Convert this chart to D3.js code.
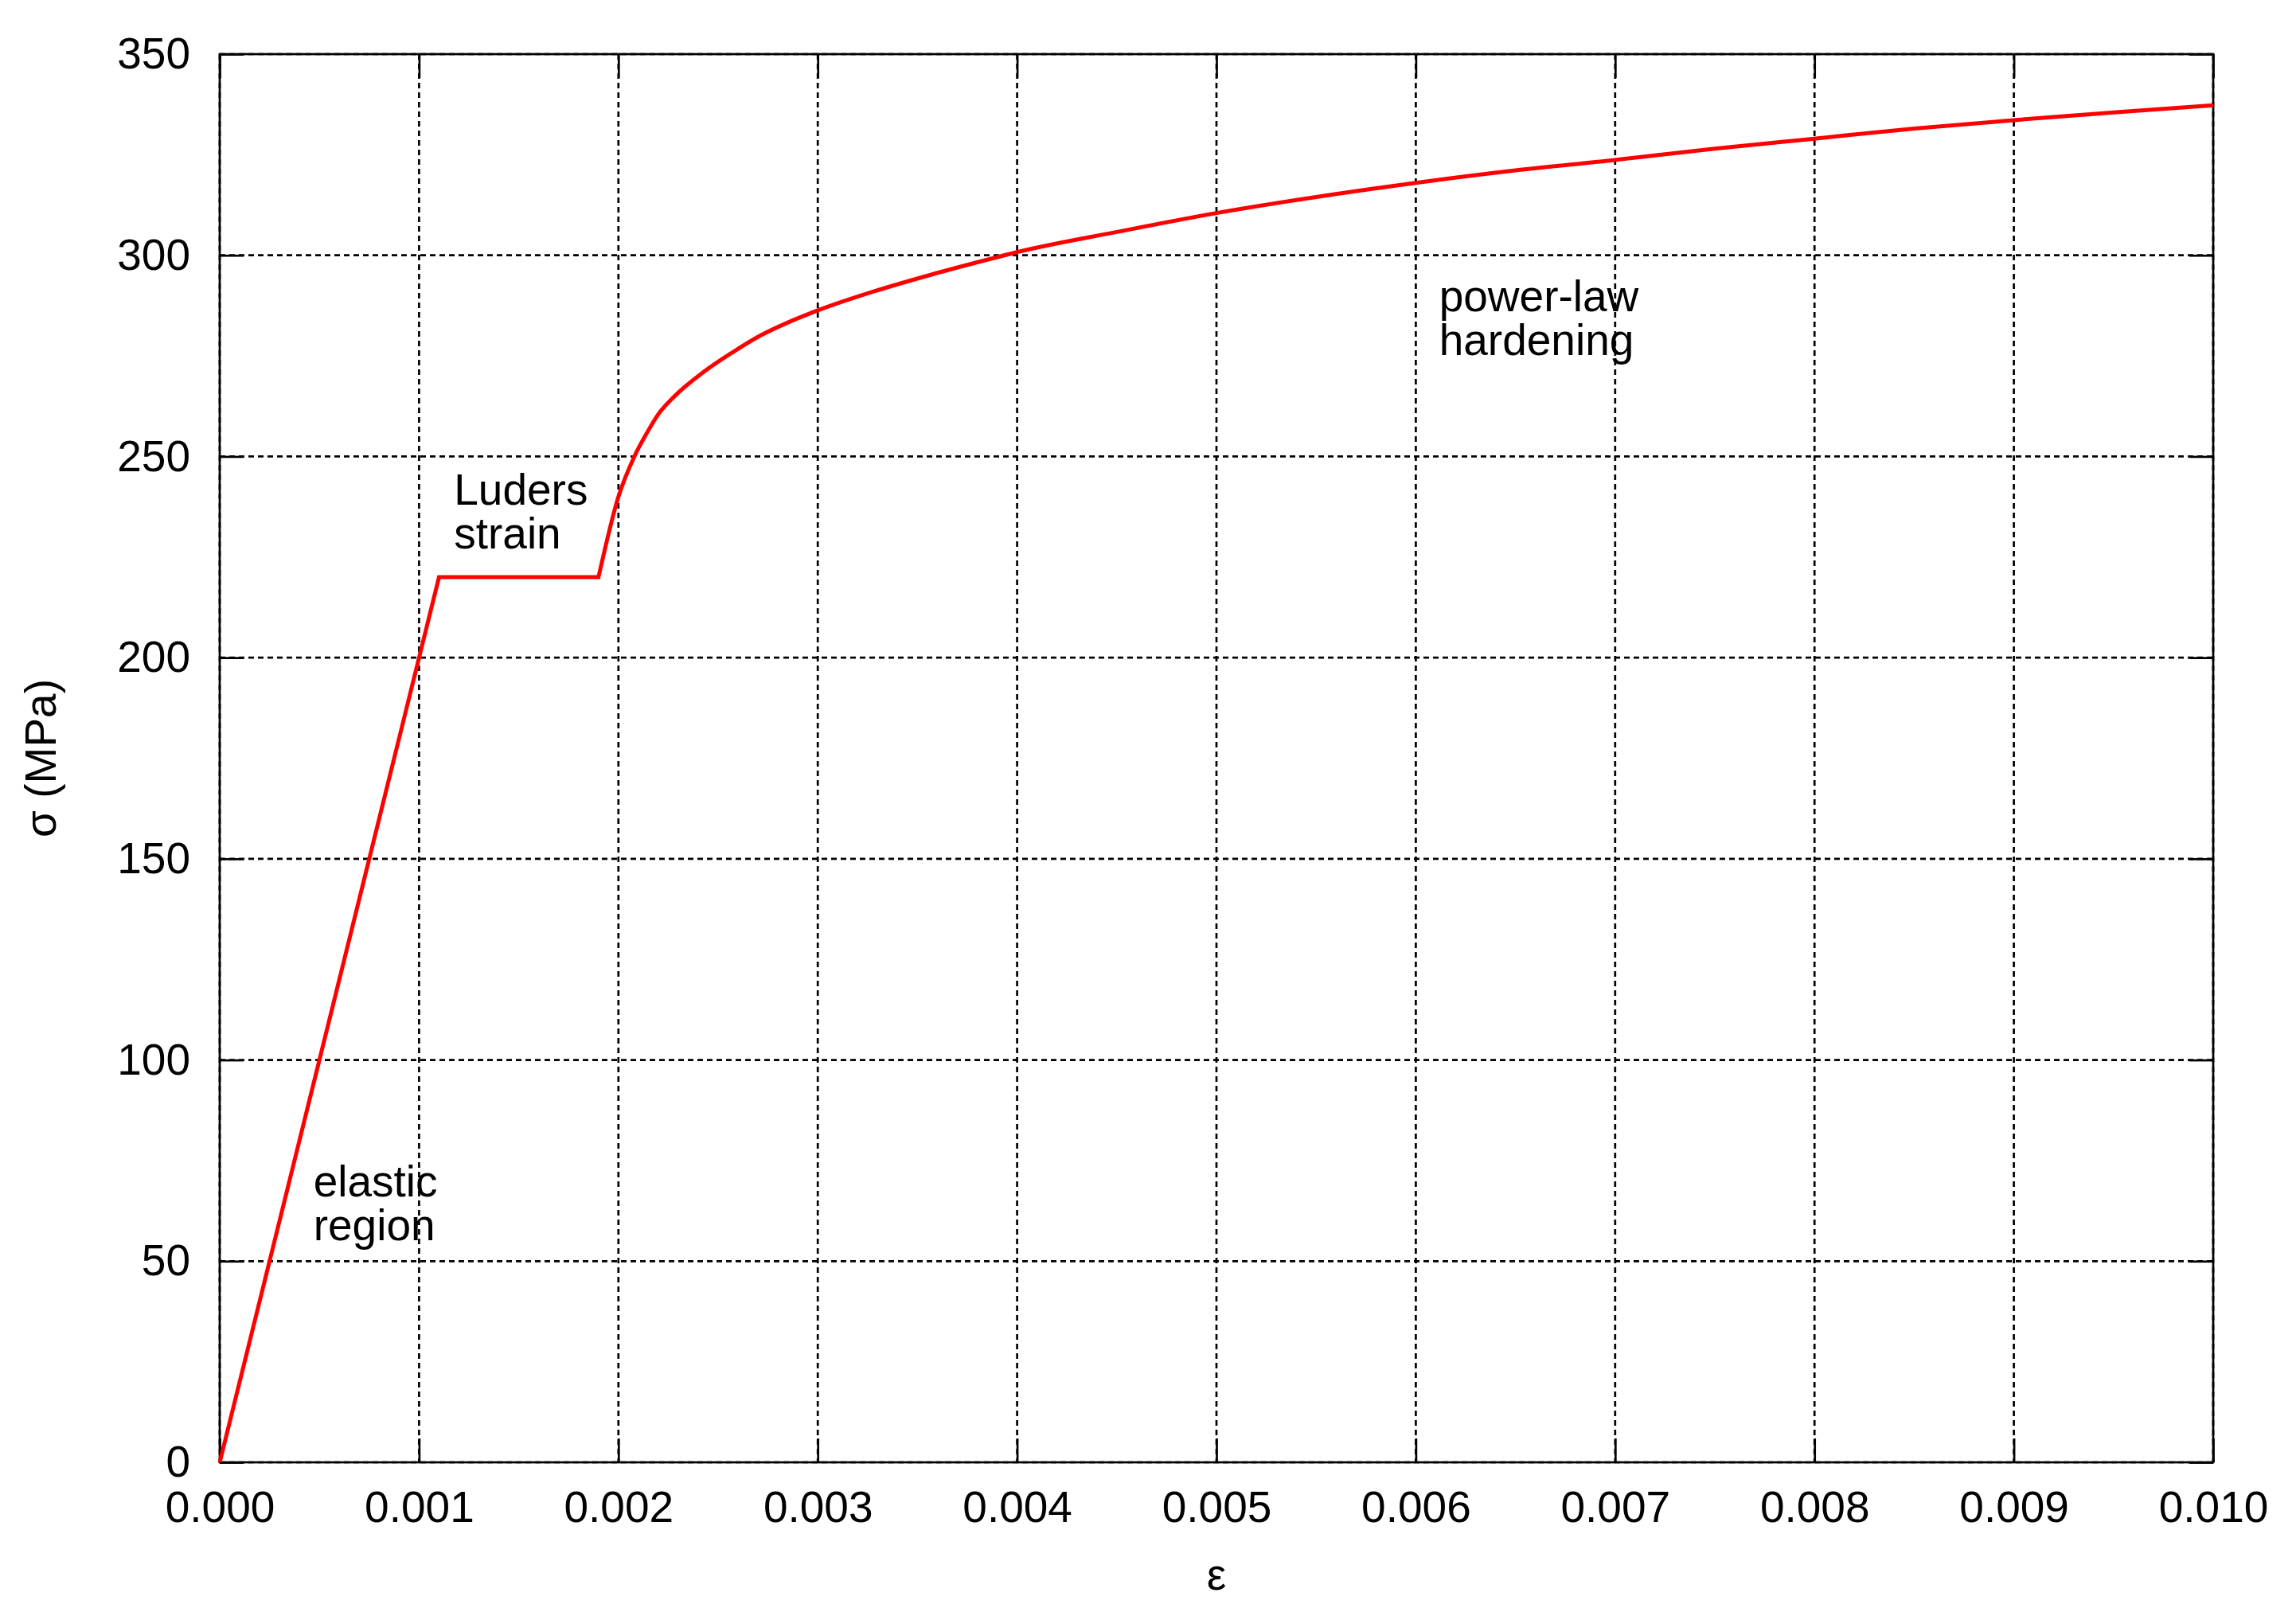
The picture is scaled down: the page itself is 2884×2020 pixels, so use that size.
<!doctype html>
<html>
<head>
    <meta http-equiv="Content-type" content="text/html; charset=utf-8"/>
    <script src="https://d3js.org/d3.v7.min.js"></script>
    <style>
        body { margin: 0; background: #fff; }
        text { font-family: "Liberation Sans", Arial, sans-serif; font-size: 55px; fill: #000; }
        .grid line { stroke: #000; stroke-width: 2.7; stroke-dasharray: 7,5; }
        .axis line { stroke: #000; stroke-width: 2.7; }
        .axis path { display: none; }
    </style>
</head>
<body>
    <svg id="chart" width="2884" height="2020"></svg>

    <script>
        // strain / stress
        var strain = [0, 0.0011, 0.0019, 0.0020, 0.00208, 0.00214, 0.0022, 0.00228, 0.00243,
                      0.00257, 0.00271, 0.00285, 0.0030, 0.00328, 0.00357, 0.00385, 0.0040, 0.0045,
                      0.0050, 0.0055, 0.0060, 0.0065, 0.0070, 0.0075, 0.0080, 0.0085, 0.0090, 0.0095, 0.0100];
        var stress = [0, 220, 220, 240, 250, 255.6, 260.5, 264.9, 271.1,
                      275.8, 280, 283.3, 286.3, 291, 295.2, 298.9, 300.8, 305.8,
                      310.5, 314.5, 318, 321.1, 323.7, 326.5, 329, 331.5, 333.6, 335.5, 337.3];

        var xTicks = [0, 0.001, 0.002, 0.003, 0.004, 0.005, 0.006, 0.007, 0.008, 0.009, 0.010];
        var yTicks = [0, 50, 100, 150, 200, 250, 300, 350];

        var notes = [
            {x: 0.00047, y: 66, lines: ["elastic", "region"]},
            {x: 0.001175, y: 238, lines: ["Luders", "strain"]},
            {x: 0.006117, y: 286, lines: ["power-law", "hardening"]}
        ];

        var plotL = 276, plotR = 2780, plotT = 68, plotB = 1837;

        var svg = d3.select("#chart");

        var x = d3.scaleLinear().domain([0, 0.01]).range([plotL, plotR]);
        var y = d3.scaleLinear().domain([0, 350]).range([plotB, plotT]);

        // dotted grid
        var grid = svg.append("g").attr("class", "grid");
        grid.selectAll("line.v")
            .data(xTicks)
            .enter()
            .append("line")
            .attr("class", "v")
            .attr("x1", function(d) { return x(d); })
            .attr("x2", function(d) { return x(d); })
            .attr("y1", plotT)
            .attr("y2", plotB);
        grid.selectAll("line.h")
            .data(yTicks)
            .enter()
            .append("line")
            .attr("class", "h")
            .attr("x1", plotL)
            .attr("x2", plotR)
            .attr("y1", function(d) { return y(d); })
            .attr("y2", function(d) { return y(d); });

        // axes, ticks pointing inward and mirrored
        svg.append("g")
            .attr("class", "axis")
            .attr("transform", "translate(0," + plotB + ")")
            .call(d3.axisBottom(x).tickValues(xTicks).tickFormat(d3.format(".3f")).tickSize(-30).tickPadding(36));
        svg.append("g")
            .attr("class", "axis")
            .attr("transform", "translate(0," + plotT + ")")
            .call(d3.axisTop(x).tickValues(xTicks).tickFormat("").tickSize(-30));
        svg.append("g")
            .attr("class", "axis")
            .attr("transform", "translate(" + plotL + ",0)")
            .call(d3.axisLeft(y).tickValues(yTicks).tickSize(-30).tickPadding(37));
        svg.append("g")
            .attr("class", "axis")
            .attr("transform", "translate(" + plotR + ",0)")
            .call(d3.axisRight(y).tickValues(yTicks).tickFormat("").tickSize(-30));

        svg.selectAll(".axis text").style("font-size", "55px").style("font-family", "'Liberation Sans', Arial, sans-serif");

        // border
        svg.append("rect")
            .attr("x", plotL)
            .attr("y", plotT)
            .attr("width", plotR - plotL)
            .attr("height", plotB - plotT)
            .attr("fill", "none")
            .attr("stroke", "#000")
            .attr("stroke-width", 2.7);

        // curve: elastic + plateau straight, hardening part smoothed
        var pts = stress.map(function(s, i) { return [strain[i], s]; });
        var straight = d3.line()
            .x(function(d) { return x(d[0]); })
            .y(function(d) { return y(d[1]); });
        var smooth = d3.line()
            .curve(d3.curveMonotoneX)
            .x(function(d) { return x(d[0]); })
            .y(function(d) { return y(d[1]); });

        svg.append("path")
            .attr("d", straight(pts.slice(0, 3)) + smooth(pts.slice(2)).replace(/^M/, "L"))
            .attr("fill", "none")
            .attr("stroke", "#ff0000")
            .attr("stroke-width", 5)
            .attr("stroke-linejoin", "miter");

        // annotations
        notes.forEach(function(n) {
            var t = svg.append("text")
                .attr("x", x(n.x))
                .attr("y", y(n.y));
            t.selectAll("tspan")
                .data(n.lines)
                .enter()
                .append("tspan")
                .attr("x", x(n.x))
                .attr("dy", function(d, i) { return i === 0 ? 0 : 55; })
                .text(function(d) { return d; });
        });

        // axis titles
        svg.append("text")
            .attr("x", (plotL + plotR) / 2)
            .attr("y", 1997)
            .attr("text-anchor", "middle")
            .text("ε");
        svg.append("text")
            .attr("transform", "translate(70," + ((plotT + plotB) / 2) + ") rotate(-90)")
            .attr("text-anchor", "middle")
            .text("σ (MPa)");
    </script>
</body>
</html>
